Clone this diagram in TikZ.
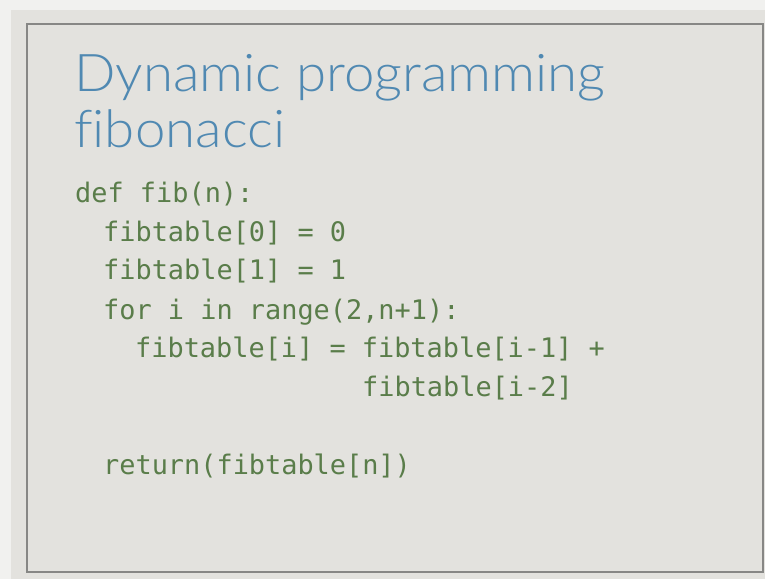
\documentclass[tikz,border=0pt]{standalone}
\usepackage{fontspec}
\newfontfamily\titlefont[UprightFont={* Light}, Ligatures=NoCommon, FakeStretch=1.05]{Lato}
\newfontfamily\codefont{DejaVu Sans Mono}
\definecolor{pagewhite}{RGB}{241,241,239}
\definecolor{slidebg}{RGB}{227,226,222}
\definecolor{framegray}{RGB}{135,135,133}
\definecolor{titleblue}{RGB}{80,137,178}
\definecolor{codegreen}{RGB}{90,125,74}
\tikzset{
  titletext/.style={anchor=base west, inner sep=0pt, text=titleblue,
    font=\titlefont\fontsize{52}{52}\selectfont},
  codetext/.style={anchor=base west, inner sep=0pt, text=codegreen,
    font=\codefont\fontsize{26.9}{26.9}\selectfont},
}
\begin{document}
\begin{tikzpicture}[x=1pt,y=1pt]
  % page and slide background
  \fill[pagewhite] (0,0) rectangle (765,579);
  \useasboundingbox (0,0) rectangle (765,579);
  \fill[slidebg] (11,0) rectangle (765,569);
  \draw[framegray, line width=1.6pt] (27,7) rectangle (763,555);

  % title
  \node[titletext] (t1) at (74,487) {Dynamic programming};
  \node[titletext] (t2) at (74,431) {fibonacci};

  % code
  \node[codetext] (c1) at (75,376) {def fib(n):};
  \node[codetext] (c2) at (103,337) {fibtable[0] = 0};
  \node[codetext] (c3) at (103,299) {fibtable[1] = 1};
  \node[codetext] (c4) at (103,260) {for i in range(2,n+1):};
  \node[codetext] (c5) at (135,222) {fibtable[i] = fibtable[i-1] +};
  \node[codetext] (c6) at (362,183) {fibtable[i-2]};
  \node[codetext] (c7) at (103,105) {return(fibtable[n])};
\end{tikzpicture}
\end{document}
